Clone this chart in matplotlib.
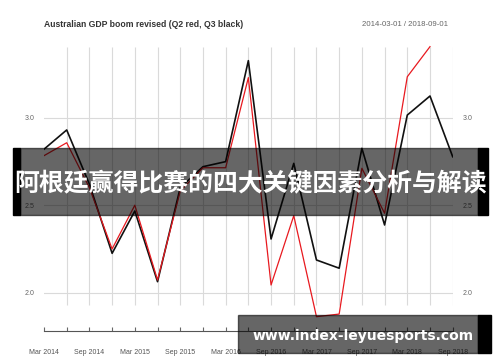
import matplotlib

matplotlib.use("Agg")
import matplotlib.pyplot as plt
import numpy as np
from matplotlib.patches import Rectangle

# quarterly GDP growth (%)
quarters = [
    "Mar 2014", "Jun 2014", "Sep 2014", "Dec 2014",
    "Mar 2015", "Jun 2015", "Sep 2015", "Dec 2015",
    "Mar 2016", "Jun 2016", "Sep 2016", "Dec 2016",
    "Mar 2017", "Jun 2017", "Sep 2017", "Dec 2017",
    "Mar 2018", "Jun 2018", "Sep 2018",
]
q3_black = [2.82, 2.93, 2.62, 2.225, 2.467, 2.063, 2.60, 2.72, 2.749, 3.326,
            2.307, 2.739, 2.187, 2.14, 2.825, 2.387, 3.015, 3.124, 2.777]
q2_red = [2.783, 2.857, 2.60, 2.25, 2.50, 2.073, 2.58, 2.714, 2.714, 3.229,
          2.044, 2.44, 1.863, 1.878, 2.711, 2.454, 3.234, 3.406]
y_ticks = [2.0, 2.5, 3.0]
y_tick_labels = ["2.0", "2.5", "3.0"]

plt.rcParams["font.family"] = ["Liberation Sans", "DejaVu Sans"]

fig = plt.figure(figsize=(5, 3.62), dpi=100)
ax = fig.add_axes([0.088, 0.0865, 0.8174, 0.803])

x = np.arange(len(quarters))
grid_c = "#dadada"

# grid
ax.vlines(x[1:], 1.93, max(q2_red), color=grid_c, lw=0.8, zorder=1)
for yv in y_ticks:
    ax.plot([x[0], x[-1]], [yv, yv], color=grid_c, lw=0.8, zorder=1)

ax.plot(x, q3_black, color="#111111", lw=1.2, zorder=3)
ax.plot(x[:len(q2_red)], q2_red, color="#e8191f", lw=0.9, zorder=4)

ax.set_xlim(0, len(quarters) - 1)
ax.set_ylim(1.783, 3.444)

labels = [q if i % 2 == 0 else "" for i, q in enumerate(quarters)]
ax.set_xticks(x)
ax.set_xticklabels(labels, fontsize=5, color="#555555")
ax.tick_params(axis="x", direction="in", length=3, color="#666666", pad=13)

ax.set_yticks(y_ticks)
ax.set_yticklabels(y_tick_labels, fontsize=5, color="#666666")
ax.tick_params(axis="y", length=0, pad=7, labelright=True)

for side in ["top", "left", "right"]:
    ax.spines[side].set_visible(False)
ax.spines["bottom"].set_color("#555555")
ax.spines["bottom"].set_linewidth(0.8)

fig.text(0.0886, 0.9337, "Australian GDP boom revised (Q2 red, Q3 black)",
         fontsize=6.2, fontweight="bold", color="#333333", va="center", ha="left")
fig.text(0.8954, 0.9337, "2014-03-01 / 2018-09-01",
         fontsize=5.6, color="#666666", va="center", ha="right")

# overlay banner with headline
fig.patches.append(Rectangle((20 / 500, 1 - 215 / 362), 458 / 500, 67 / 362,
                             transform=fig.transFigure, color="black", alpha=0.6, zorder=10))
fig.patches.append(Rectangle((13 / 500, 1 - 215 / 362), 7 / 500, 67 / 362,
                             transform=fig.transFigure, color="black", zorder=10))
fig.patches.append(Rectangle((478 / 500, 1 - 215 / 362), 10 / 500, 67 / 362,
                             transform=fig.transFigure, color="black", zorder=10))
fig.text(250.5 / 500, 1 - 184 / 362, "阿根廷赢得比赛的四大关键因素分析与解读",
         family=["Noto Sans CJK SC", "DejaVu Sans"], fontsize=17.9, fontweight="bold",
         color="white", ha="center", va="center", zorder=11)

# site watermark, bottom right
fig.patches.append(Rectangle((238 / 500, 1 - 353 / 362), 240 / 500, 38 / 362,
                             transform=fig.transFigure, color="black", alpha=0.6, zorder=10))
fig.patches.append(Rectangle((478 / 500, 1 - 353 / 362), 12.5 / 500, 38 / 362,
                             transform=fig.transFigure, color="black", zorder=10))
fig.text(363.5 / 500, 1 - 336 / 362, "www.index-leyuesports.com",
         family=["DejaVu Sans"], fontsize=10, fontweight="bold",
         color="white", ha="center", va="center", zorder=11)

fig.savefig("out.png", dpi=100)
